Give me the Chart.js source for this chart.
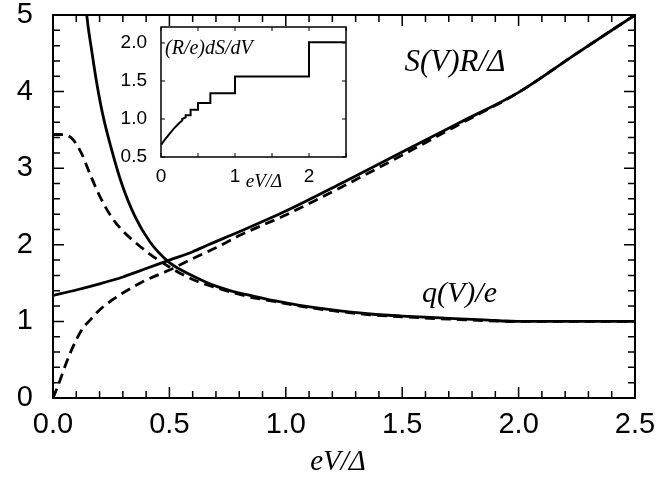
<!DOCTYPE html>
<html>
<head>
<meta charset="utf-8">
<script src="https://cdn.jsdelivr.net/npm/chart.js@4.4.1/dist/chart.umd.min.js"></script>
<style>
    body { margin: 0; background: #fff; }
    #wrap { position: relative; width: 657px; height: 481px; }
    #mainChart { position: absolute; left: 0; top: 0; }
    #insetChart { position: absolute; left: 100px; top: 20px; }
</style>
</head>
<body>
<div id="wrap">
    <canvas id="mainChart" width="657" height="481"></canvas>
    <canvas id="insetChart" width="260" height="180"></canvas>
</div>
<script>
// ==========================
// Data
// ==========================
const sSolidX = [0, 0.1, 0.2, 0.3, 0.4, 0.5, 0.6, 0.667, 0.8, 1.0, 1.25, 1.5, 1.75, 2.0, 2.25, 2.5];
const sSolidY = [1.34, 1.41, 1.49, 1.58, 1.69, 1.80, 1.91, 2.0, 2.17, 2.44, 2.82, 3.21, 3.60, 3.99, 4.50, 5.0];

const sDashX = [0, 0.015, 0.03, 0.05, 0.073, 0.1, 0.13, 0.16, 0.2, 0.25, 0.3, 0.4, 0.5, 0.6, 0.7, 0.8, 1.0, 1.25, 1.5, 1.75, 2.0, 2.25, 2.5];
const sDashY = [0, 0.11, 0.23, 0.40, 0.58, 0.76, 0.92, 1.02, 1.15, 1.27, 1.37, 1.54, 1.67, 1.82, 1.96, 2.12, 2.39, 2.77, 3.17, 3.58, 3.99, 4.50, 5.0];

const qSolidX = [0.13, 0.145, 0.166, 0.188, 0.216, 0.252, 0.295, 0.352, 0.416, 0.495, 0.545, 0.63, 0.7, 0.775, 0.846, 0.95, 1.06, 1.2, 1.35, 1.5, 1.7, 1.85, 2.0, 2.25, 2.5];
const qSolidY = [5.6, 5.0, 4.54, 4.11, 3.67, 3.24, 2.80, 2.37, 2.04, 1.78, 1.68, 1.55, 1.46, 1.39, 1.34, 1.27, 1.21, 1.15, 1.10, 1.07, 1.04, 1.02, 1.0, 1.0, 1.0];

const qDashX = [0, 0.03, 0.06, 0.087, 0.123, 0.158, 0.2, 0.252, 0.3, 0.35, 0.42, 0.5, 0.545, 0.63, 0.7, 0.83, 0.95, 1.06, 1.2, 1.35, 1.5, 1.7, 2.0, 2.5];
const qDashY = [3.44, 3.44, 3.43, 3.37, 3.19, 2.93, 2.64, 2.36, 2.18, 2.04, 1.87, 1.71, 1.63, 1.51, 1.44, 1.33, 1.26, 1.20, 1.14, 1.09, 1.06, 1.03, 1.0, 1.0];

// inset: (R/e)dS/dV, stepped
const insetX = [0, 0.06, 0.12, 0.18, 0.24, 0.286, 0.286, 0.333, 0.333, 0.4, 0.4, 0.5, 0.5, 0.667, 0.667, 1.0, 1.0, 2.0, 2.0, 2.5];
const insetY = [0.66, 0.74, 0.81, 0.88, 0.94, 0.98, 1.0, 1.02, 1.05, 1.05, 1.12, 1.12, 1.21, 1.21, 1.34, 1.34, 1.56, 1.56, 2.01, 2.01];

// tick labels
const mainXTicks = ["0.0", "0.5", "1.0", "1.5", "2.0", "2.5"];
const mainYTicks = ["0", "1", "2", "3", "4", "5"];
const insetXTicks = ["0", "1", "2"];
const insetYTicks = ["0.5", "1.0", "1.5", "2.0"];

const SANS = "'Liberation Sans', Arial, sans-serif";
const SERIF = "'Liberation Serif', 'Times New Roman', serif";

function pts(xs, ys) {
    return xs.map((x, i) => ({ x: x, y: ys[i] }));
}

// ==========================
// Frame + inward ticks
// ==========================
function frameTicksPlugin(id) {
    return {
        id: id,
        afterDatasetsDraw(chart, args, o) {
            const { ctx, chartArea: a, scales: { x, y } } = chart;
            ctx.save();
            ctx.strokeStyle = "#000";
            ctx.lineWidth = o.lw;
            ctx.beginPath();
            for (let i = 0; i <= o.xCount; i++) {
                const v = o.xMin + i * o.xStep;
                const px = x.getPixelForValue(v);
                const len = (i % o.xMajorEvery === 0) ? o.major : o.minor;
                ctx.moveTo(px, a.bottom); ctx.lineTo(px, a.bottom - len);
                ctx.moveTo(px, a.top); ctx.lineTo(px, a.top + len);
            }
            for (let i = 0; i <= o.yCount; i++) {
                const v = o.yMin + i * o.yStep;
                const py = y.getPixelForValue(v);
                const len = (i % o.yMajorEvery === 0) ? o.major : o.minor;
                ctx.moveTo(a.left, py); ctx.lineTo(a.left + len, py);
                ctx.moveTo(a.right, py); ctx.lineTo(a.right - len, py);
            }
            ctx.stroke();
            ctx.lineWidth = o.frame;
            ctx.strokeRect(a.left, a.top, a.right - a.left, a.bottom - a.top);
            ctx.restore();
        }
    };
}

function textPlugin(id) {
    return {
        id: id,
        afterDraw(chart, args, o) {
            const { ctx, scales: { x, y } } = chart;
            ctx.save();
            ctx.fillStyle = "#000";
            o.items.forEach(t => {
                ctx.font = t.font;
                ctx.textAlign = t.align || "left";
                ctx.textBaseline = "alphabetic";
                const px = t.px !== undefined ? t.px : x.getPixelForValue(t.x);
                const py = t.py !== undefined ? t.py : y.getPixelForValue(t.y);
                ctx.fillText(t.text, px, py);
            });
            ctx.restore();
        }
    };
}

const whiteArea = {
    id: "whiteArea",
    beforeDraw(chart) {
        const { ctx, chartArea: a } = chart;
        ctx.save();
        ctx.fillStyle = "#fff";
        ctx.fillRect(a.left, a.top, a.right - a.left, a.bottom - a.top);
        ctx.restore();
    }
};

function lineSet(xs, ys, dashed) {
    return {
        data: pts(xs, ys),
        showLine: true,
        borderColor: "#000",
        borderWidth: 2.8,
        borderDash: dashed ? [10, 6] : [],
        pointRadius: 0,
        fill: false,
        cubicInterpolationMode: "monotone"
    };
}

// no label-overflow padding, chart area is set by layout padding + afterFit only
function fitX(h) {
    return s => { s.height = h; s.paddingLeft = 0; s.paddingRight = 0; s.paddingTop = 0; s.paddingBottom = 0; };
}
function fitY(w) {
    return s => { s.width = w; s.paddingLeft = 0; s.paddingRight = 0; s.paddingTop = 0; s.paddingBottom = 0; };
}

// ==========================
// Main chart
// ==========================
new Chart(document.getElementById("mainChart"), {
    type: "scatter",
    data: {
        datasets: [
            lineSet(sSolidX, sSolidY, false),
            lineSet(sDashX, sDashY, true),
            lineSet(qSolidX, qSolidY, false),
            lineSet(qDashX, qDashY, true)
        ]
    },
    plugins: [frameTicksPlugin("mainFrame"), textPlugin("mainText")],
    options: {
        responsive: false,
        animation: false,
        layout: { padding: { top: 15, right: 22, left: 0, bottom: 0 } },
        plugins: {
            legend: { display: false },
            tooltip: { enabled: false },
            mainFrame: {
                lw: 1.5, frame: 2, minor: 7, major: 11,
                xMin: 0, xStep: 0.1, xCount: 25, xMajorEvery: 5,
                yMin: 0, yStep: 0.2, yCount: 25, yMajorEvery: 5
            },
            mainText: {
                items: [
                    { text: "S(V)R/\u0394", x: 1.51, y: 4.27, font: "italic 31px " + SERIF },
                    { text: "q(V)/e", x: 1.585, y: 1.25, font: "italic 30px " + SERIF },
                    { text: "eV/\u0394", px: 338, py: 470, align: "center", font: "italic 29px " + SERIF }
                ]
            }
        },
        scales: {
            x: {
                type: "linear", min: 0, max: 2.5,
                grid: { display: false, drawTicks: false },
                border: { display: false },
                ticks: {
                    stepSize: 0.5, autoSkip: false, maxRotation: 0, padding: 12,
                    color: "#000", font: { family: SANS, size: 29, lineHeight: 1 },
                    callback: (v, i) => mainXTicks[i]
                },
                afterFit: fitX(83)
            },
            y: {
                type: "linear", min: 0, max: 5,
                grid: { display: false, drawTicks: false },
                border: { display: false },
                ticks: {
                    stepSize: 1, padding: 20,
                    color: "#000", font: { family: SANS, size: 29, lineHeight: 1 },
                    callback: (v, i) => mainYTicks[i]
                },
                afterFit: fitY(53)
            }
        }
    }
});

// ==========================
// Inset chart
// ==========================
new Chart(document.getElementById("insetChart"), {
    type: "scatter",
    data: {
        datasets: [{
            data: pts(insetX, insetY),
            showLine: true,
            borderColor: "#000",
            borderWidth: 2,
            pointRadius: 0,
            tension: 0,
            fill: false
        }]
    },
    plugins: [whiteArea, frameTicksPlugin("insetFrame"), textPlugin("insetText")],
    options: {
        responsive: false,
        animation: false,
        layout: { padding: { top: 7, right: 14, left: 0, bottom: 0 } },
        plugins: {
            legend: { display: false },
            tooltip: { enabled: false },
            insetFrame: {
                lw: 1, frame: 1.5, minor: 4, major: 4,
                xMin: 0, xStep: 0.5, xCount: 5, xMajorEvery: 2,
                yMin: 0.5, yStep: 0.5, yCount: 3, yMajorEvery: 1
            },
            insetText: {
                items: [
                    { text: "(R/e)dS/dV", px: 65, py: 34, font: "italic 20px " + SERIF },
                    { text: "eV/\u0394", px: 164, py: 167, align: "center", font: "italic 19px " + SERIF }
                ]
            }
        },
        scales: {
            x: {
                type: "linear", min: 0, max: 2.5,
                grid: { display: false, drawTicks: false },
                border: { display: false },
                ticks: {
                    stepSize: 1, includeBounds: false, autoSkip: false, maxRotation: 0, padding: 10,
                    color: "#000", font: { family: SANS, size: 19, lineHeight: 1 },
                    callback: (v, i) => insetXTicks[i]
                },
                afterFit: fitX(43)
            },
            y: {
                type: "linear", min: 0.5, max: 2.21,
                grid: { display: false, drawTicks: false },
                border: { display: false },
                ticks: {
                    stepSize: 0.5, includeBounds: false, padding: 14,
                    color: "#000", font: { family: SANS, size: 19, lineHeight: 1 },
                    callback: (v, i) => insetYTicks[i]
                },
                afterFit: fitY(61)
            }
        }
    }
});
</script>
</body>
</html>
